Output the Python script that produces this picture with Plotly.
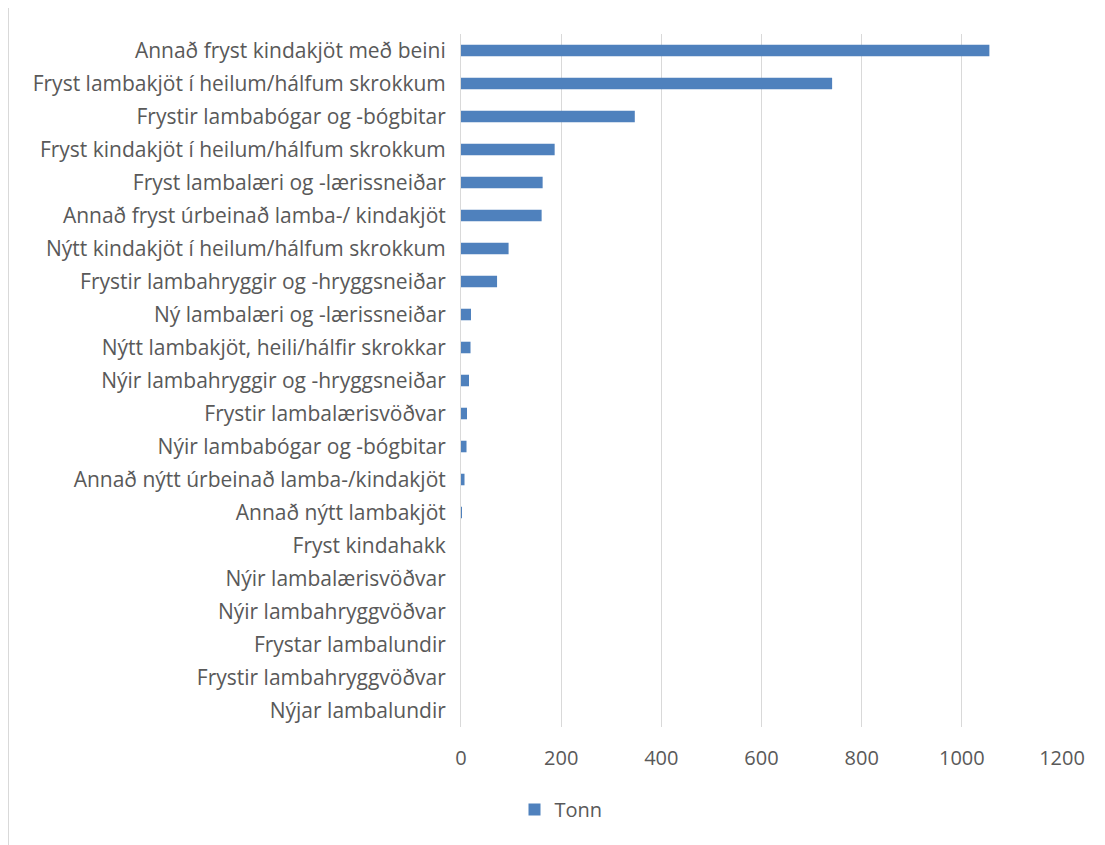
import plotly.graph_objects as go

categories = [
    "Annað fryst kindakjöt með beini",
    "Fryst lambakjöt í heilum/hálfum skrokkum",
    "Frystir lambabógar og -bógbitar",
    "Fryst kindakjöt í heilum/hálfum skrokkum",
    "Fryst lambalæri og -lærissneiðar",
    "Annað fryst úrbeinað lamba-/ kindakjöt",
    "Nýtt kindakjöt í heilum/hálfum skrokkum",
    "Frystir lambahryggir og -hryggsneiðar",
    "Ný lambalæri og -lærissneiðar",
    "Nýtt lambakjöt, heili/hálfir skrokkar",
    "Nýir lambahryggir og -hryggsneiðar",
    "Frystir lambalærisvöðvar",
    "Nýir lambabógar og -bógbitar",
    "Annað nýtt úrbeinað lamba-/kindakjöt",
    "Annað nýtt lambakjöt",
    "Fryst kindahakk",
    "Nýir lambalærisvöðvar",
    "Nýir lambahryggvöðvar",
    "Frystar lambalundir",
    "Frystir lambahryggvöðvar",
    "Nýjar lambalundir",
]
tonn = [1055, 741, 347, 187, 163, 161, 95, 72, 20, 19, 16, 12, 11, 7, 1.5,
        0, 0, 0, 0, 0, 0]
x_ticks = [0, 200, 400, 600, 800, 1000, 1200]

# page offset (body margin)
OFF = 8
W, H = 1105, 845
# target plot area in page pixels
PL, PR, PT, PB = 461, 1062, 33.5, 727.5
L = PL - OFF
T = PT - OFF
R = W - (PR - OFF)
B = H - (PB - OFF)
pw, ph = W - L - R, H - T - B

def px(x):
    return (x - OFF - L) / pw

def py(y):
    return (H - B - (y - OFF)) / ph

fig = go.Figure(go.Bar(
    y=categories, x=tonn, orientation="h", name="Tonn",
    marker=dict(color="#4F81BD", line=dict(width=0)),
    showlegend=True,
))

fig.update_layout(
    width=W, height=H,
    margin=dict(l=L, r=R, t=T, b=B, autoexpand=False),
    paper_bgcolor="white", plot_bgcolor="white",
    font=dict(family="Open Sans, sans-serif", size=21, color="#595959"),
    bargap=0.65,
    xaxis=dict(range=[0, 1200], tickvals=x_ticks, showgrid=True,
               gridcolor="#D9D9D9", gridwidth=1, zeroline=False,
               showline=False, ticks="", tickfont=dict(size=20),
               ticklabelstandoff=17),
    yaxis=dict(autorange="reversed", showgrid=False, showline=True,
               linecolor="#D9D9D9", linewidth=1, ticks="",
               ticklabelstandoff=10, tickfont=dict(size=21)),
    legend=dict(orientation="h", x=px(561), xanchor="center",
                y=py(810), yanchor="middle", font=dict(size=20),
                itemwidth=30),
    shapes=[dict(type="rect", xref="paper", yref="paper",
                 x0=px(8.5), x1=px(1125), y0=py(860), y1=py(5.5),
                 line=dict(color="#D9D9D9", width=1), layer="below")],
)

fig.write_html("out.html")
